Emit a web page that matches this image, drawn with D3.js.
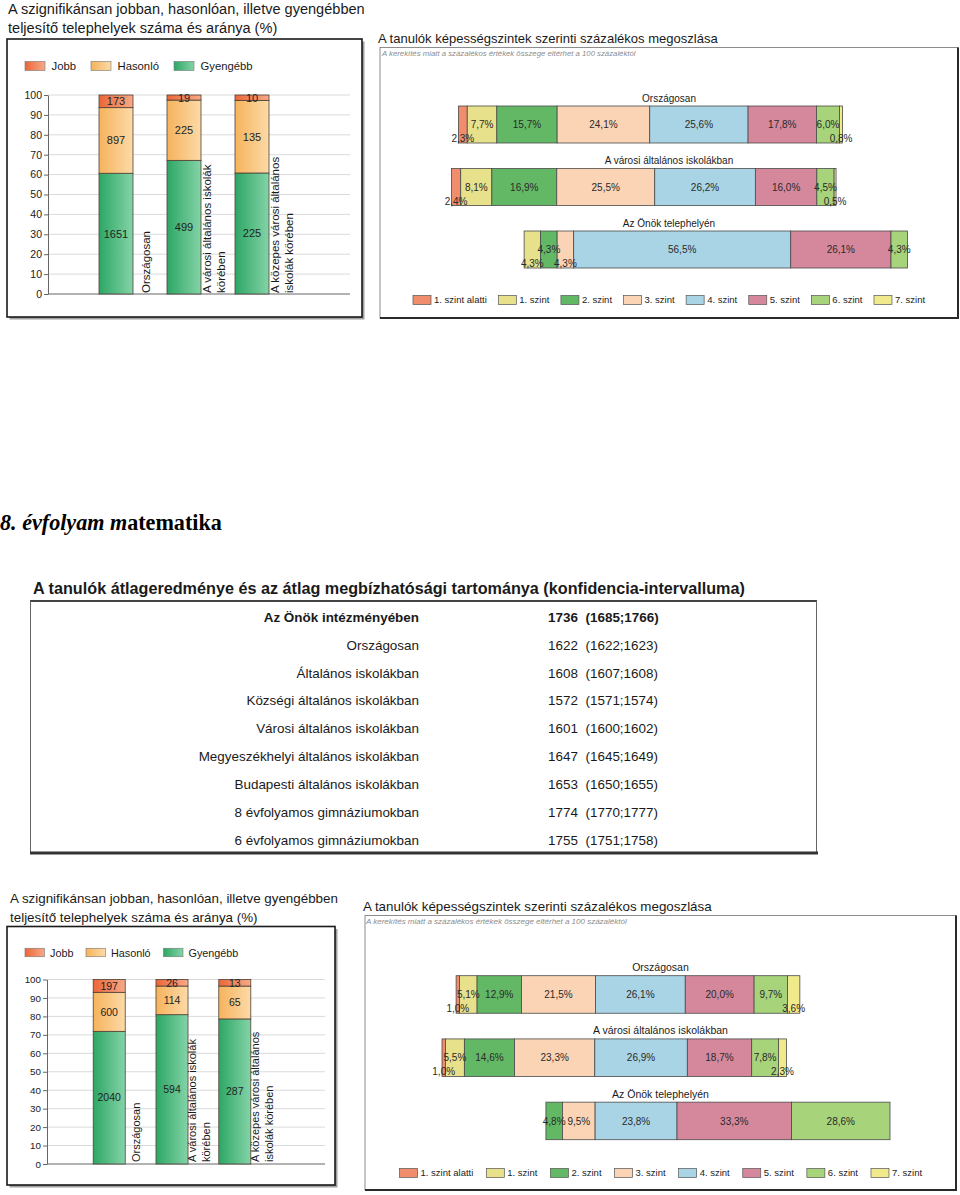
<!DOCTYPE html>
<html><head><meta charset="utf-8">
<script src="https://cdn.jsdelivr.net/npm/d3@7/dist/d3.min.js"></script>
<style>body{margin:0;background:#fff}svg{display:block}</style>
</head><body><svg id="c" width="960" height="1195"></svg>
<script>
// ---------- DATA ----------
const compCategories = [["Országosan"], ["A városi általános iskolák", "körében"], ["A közepes városi általános", "iskolák körében"]];
const compKeys = ["Jobb", "Hasonló", "Gyengébb"];
const yTicks = [0, 10, 20, 30, 40, 50, 60, 70, 80, 90, 100];
// upper block
const jobbA = [173, 19, 10];
const hasonloA = [897, 225, 135];
const gyengebbA = [1651, 499, 225];
// 8. évfolyam matematika
const jobbB = [197, 26, 13];
const hasonloB = [600, 114, 65];
const gyengebbB = [2040, 594, 287];

const levelNames = ["1. szint alatti", "1. szint", "2. szint", "3. szint", "4. szint", "5. szint", "6. szint", "7. szint"];
const distRows = ["Országosan", "A városi általános iskolákban", "Az Önök telephelyén"];
const distA_orszagosan = [2.3, 7.7, 15.7, 24.1, 25.6, 17.8, 6.0, 0.8];
const distA_varosi = [2.4, 8.1, 16.9, 25.5, 26.2, 16.0, 4.5, 0.5];
const distA_onok = [0, 4.3, 4.3, 4.3, 56.5, 26.1, 4.3, 0];
const distA_start = [1.8, 0, 18.9];
const distB_orszagosan = [1.0, 5.1, 12.9, 21.5, 26.1, 20.0, 9.7, 3.6];
const distB_varosi = [1.0, 5.5, 14.6, 23.3, 26.9, 18.7, 7.8, 2.3];
const distB_onok = [0, 0, 4.8, 9.5, 23.8, 33.3, 28.6, 0];
const distB_start = [4.1, 0, 30.2];

const tableLabels = ["Az Önök intézményében", "Országosan", "Általános iskolákban", "Községi általános iskolákban", "Városi általános iskolákban", "Megyeszékhelyi általános iskolákban", "Budapesti általános iskolákban", "8 évfolyamos gimnáziumokban", "6 évfolyamos gimnáziumokban"];
const tableMeans = [1736, 1622, 1608, 1572, 1601, 1647, 1653, 1774, 1755];
const tableLow = [1685, 1622, 1607, 1571, 1600, 1645, 1650, 1770, 1751];
const tableHigh = [1766, 1623, 1608, 1574, 1602, 1649, 1655, 1777, 1758];

// ---------- STYLE ----------
const SANS = "'Liberation Sans', Arial, sans-serif";
const SERIF = "'Liberation Serif', 'Times New Roman', serif";
const compGrad = {"Jobb": ["#EC6638", "#F7A988"], "Hasonló": ["#F6B35C", "#FCDAA8"], "Gyengébb": ["#2DA765", "#84D3A7"]};
const levelColors = ["#EF8D6C", "#E7E18C", "#63B865", "#FAD4B5", "#A9D4E5", "#D5889C", "#A7D37B", "#F0EA8C"];

const svg = d3.select("#c");
const defs = svg.append("defs");
compKeys.forEach((k, i) => {
  const g = defs.append("linearGradient").attr("id", "grad" + i).attr("x1", 0).attr("x2", 1).attr("y1", 0).attr("y2", 0);
  g.append("stop").attr("offset", 0).attr("stop-color", compGrad[k][0]);
  g.append("stop").attr("offset", 1).attr("stop-color", compGrad[k][1]);
});

function fitText(t, w) {
  const cur = t.node().getComputedTextLength();
  const fs = parseFloat(t.attr("font-size"));
  t.attr("font-size", (fs * w / cur).toFixed(2));
  return fs * w / cur;
}

// ---------- COMPARISON (stacked 100%) ----------
function drawComparison(cfg) {
  const [bx, by, bw, bh] = cfg.box;
  svg.append("rect").attr("x", bx + 2.5).attr("y", by + 2.5).attr("width", bw).attr("height", bh).attr("fill", "#a0a0a0");
  svg.append("rect").attr("x", bx).attr("y", by).attr("width", bw).attr("height", bh).attr("fill", "#fff").attr("stroke", "#1a1a1a").attr("stroke-width", 1.6);

  const t1 = svg.append("text").attr("x", cfg.title.x).attr("y", cfg.title.y[0]).attr("font-family", SANS).attr("font-size", 14).attr("fill", "#1a1a1a").text("A szignifikánsan jobban, hasonlóan, illetve gyengébben");
  const fs = fitText(t1, cfg.title.w);
  svg.append("text").attr("x", cfg.title.x).attr("y", cfg.title.y[1]).attr("font-family", SANS).attr("font-size", fs.toFixed(2)).attr("fill", "#1a1a1a").text("teljesítő telephelyek száma és aránya (%)");

  // legend
  compKeys.forEach((k, i) => {
    const lx = cfg.legend.x[i];
    svg.append("rect").attr("x", lx).attr("y", cfg.legend.y - cfg.legend.h / 2).attr("width", cfg.legend.w).attr("height", cfg.legend.h)
      .attr("fill", `url(#grad${i})`).attr("stroke", "#777").attr("stroke-width", 0.6);
    svg.append("text").attr("x", lx + cfg.legend.tx).attr("y", cfg.legend.y + 4).attr("font-family", SANS).attr("font-size", cfg.legend.fs).attr("fill", "#1a1a1a").text(k);
  });

  const y = d3.scaleLinear().domain([0, 100]).range([cfg.y0, cfg.y1]);
  const x = d3.scaleBand().domain(d3.range(compCategories.length)).range(cfg.band).paddingInner(cfg.pi).paddingOuter(0.25);

  const g = svg.append("g");
  g.selectAll("line.grid").data(yTicks.filter(d => d > 0)).join("line").attr("class", "grid")
    .attr("x1", cfg.axisX).attr("x2", cfg.gridX2).attr("y1", d => y(d)).attr("y2", d => y(d)).attr("stroke", "#dadada");
  const ax = g.append("g").attr("transform", `translate(${cfg.axisX},0)`).call(d3.axisLeft(y).tickValues(yTicks).tickSize(4).tickPadding(2).tickSizeOuter(0));
  ax.select(".domain").attr("stroke", "#666");
  ax.selectAll(".tick line").attr("stroke", "#666");
  ax.selectAll(".tick text").attr("font-family", SANS).attr("font-size", cfg.tickFs).attr("fill", "#1a1a1a");
  g.append("line").attr("x1", cfg.axisX).attr("x2", cfg.gridX2).attr("y1", y(0)).attr("y2", y(0)).attr("stroke", "#666");

  const rows = d3.range(compCategories.length).map(i => ({ i, "Jobb": cfg.counts[0][i], "Hasonló": cfg.counts[1][i], "Gyengébb": cfg.counts[2][i] }));
  const series = d3.stack().keys(["Gyengébb", "Hasonló", "Jobb"]).offset(d3.stackOffsetExpand)(rows);
  series.forEach(s => {
    const gi = compKeys.indexOf(s.key);
    g.selectAll(null).data(s).join("rect")
      .attr("x", d => x(d.data.i)).attr("width", x.bandwidth())
      .attr("y", d => y(d[1] * 100)).attr("height", d => y(d[0] * 100) - y(d[1] * 100))
      .attr("fill", `url(#grad${gi})`).attr("stroke", "#4e4035").attr("stroke-width", 0.8);
  });
  series.forEach(s => {
    g.selectAll(null).data(s).join("text")
      .attr("x", d => x(d.data.i) + x.bandwidth() / 2).attr("y", d => y((d[0] + d[1]) * 50) + cfg.valFs * 0.36)
      .attr("text-anchor", "middle").attr("font-family", SANS).attr("font-size", cfg.valFs).attr("fill", "#1f1f1f")
      .text(d => d.data[s.key]);
  });
  // rotated category labels
  compCategories.forEach((lines, i) => {
    const gc = x(i) + x.bandwidth() + (x.step() - x.bandwidth()) / 2 - 4;
    lines.forEach((ln, j) => {
      const cx = gc + (j - (lines.length - 1) / 2) * cfg.lineGap;
      g.append("text").attr("transform", `translate(${cx},${cfg.catY}) rotate(-90)`)
        .attr("dy", "0.35em").attr("font-family", SANS).attr("font-size", cfg.catFs).attr("fill", "#1a1a1a").text(ln);
    });
  });
}

// ---------- DISTRIBUTION ----------
function drawDistribution(cfg) {
  const [bx, by, bw, bh] = cfg.box;
  svg.append("rect").attr("x", bx).attr("y", by).attr("width", bw).attr("height", bh).attr("fill", "#fff").attr("stroke", "#8c8c8c").attr("stroke-width", 1);
  svg.append("path").attr("d", `M${bx + bw},${by}V${by + bh}H${bx}`).attr("fill", "none").attr("stroke", "#2a2a2a").attr("stroke-width", 2);

  const t = svg.append("text").attr("x", cfg.title.x).attr("y", cfg.title.y).attr("font-family", SANS).attr("font-size", 13).attr("fill", "#1a1a1a")
    .text("A tanulók képességszintek szerinti százalékos megoszlása");
  fitText(t, cfg.title.w);
  const s = svg.append("text").attr("x", cfg.sub.x).attr("y", cfg.sub.y).attr("font-family", SANS).attr("font-style", "italic").attr("font-size", 7).attr("fill", "#8c8c8c")
    .text("A kerekítés miatt a százalékos értékek összege eltérhet a 100 százaléktól");
  fitText(s, cfg.sub.w);

  const totals = cfg.rows.map((r, i) => cfg.starts[i] + d3.sum(r));
  const x = d3.scaleLinear().domain([0, d3.max(totals)]).range(cfg.xRange);
  const y = d3.scaleBand().domain(distRows).range(cfg.yRange).paddingInner(cfg.pi).paddingOuter(0);
  const cx = bx + bw / 2;
  const fmt = v => d3.format(".1f")(v).replace(".", ",") + "%";

  distRows.forEach((name, r) => {
    let cum = cfg.starts[r];
    const segs = cfg.rows[r].map((v, i) => { const o = { v, i, a: cum, b: cum + v }; cum += v; return o; }).filter(o => o.v > 0);
    const g = svg.append("g");
    g.append("text").attr("x", cx).attr("y", y(name) - 4.5).attr("text-anchor", "middle").attr("font-family", SANS).attr("font-size", cfg.rowFs).attr("fill", "#1a1a1a").text(name);
    g.selectAll("rect").data(segs).join("rect")
      .attr("x", o => x(o.a)).attr("width", o => x(o.b) - x(o.a)).attr("y", y(name)).attr("height", y.bandwidth())
      .attr("fill", o => levelColors[o.i]).attr("stroke", "#4a4a4a").attr("stroke-width", 0.8);
    const mid = y(name) + y.bandwidth() / 2;
    g.selectAll("text.v").data(segs).join("text").attr("class", "v")
      .attr("x", o => (x(o.a) + x(o.b)) / 2)
      .attr("y", o => mid + 3.6 + ((o.v < 3 || (o.v < 5 && o.i % 2 === 1)) ? 14 : 0))
      .attr("text-anchor", "middle").attr("font-family", SANS).attr("font-size", cfg.valFs).attr("fill", "#2a2a2a")
      .text(o => fmt(o.v));
  });

  let lx = cfg.legend.x;
  levelNames.forEach((n, i) => {
    svg.append("rect").attr("x", lx).attr("y", cfg.legend.y - 4.5).attr("width", 18).attr("height", 9)
      .attr("fill", levelColors[i]).attr("stroke", "#555").attr("stroke-width", 0.7);
    const tt = svg.append("text").attr("x", lx + 21).attr("y", cfg.legend.y + 3.4).attr("font-family", SANS).attr("font-size", 9.5).attr("fill", "#222").text(n);
    lx += 21 + tt.node().getComputedTextLength() + cfg.legend.gap;
  });
}

// ---------- DRAW ----------
drawComparison({
  box: [7, 39, 355, 278], title: { x: 8, y: [14, 33], w: 357 },
  legend: { x: [25, 91, 174], y: 66, w: 20, h: 9, tx: 26.5, fs: 11.3 },
  y0: 294, y1: 95, axisX: 48, gridX2: 350, band: [82, 286], pi: 0.5,
  counts: [jobbA, hasonloA, gyengebbA], tickFs: 10.5, valFs: 11, catFs: 11.5, catY: 293, lineGap: 14
});
drawDistribution({
  box: [380, 47.5, 578, 270.5], title: { x: 378, y: 43, w: 340 }, sub: { x: 382, y: 56, w: 254 },
  rows: [distA_orszagosan, distA_varosi, distA_onok], starts: distA_start,
  xRange: [451.5, 907.5], yRange: [106, 268], pi: 0.408, rowFs: 10, valFs: 10,
  legend: { x: 413, y: 300, gap: 11.5 }
});

// heading
const hd = svg.append("text").attr("x", 0).attr("y", 530).attr("font-family", SERIF).attr("font-weight", "bold").attr("font-size", 21).attr("fill", "#000");
hd.append("tspan").attr("font-style", "italic").text("8. évfolyam m");
hd.append("tspan").text("atematika");
fitText(hd, 222);

// table
const tt = svg.append("text").attr("x", 33).attr("y", 594).attr("font-family", SANS).attr("font-weight", "bold").attr("font-size", 16).attr("fill", "#1a1a1a")
  .text("A tanulók átlageredménye és az átlag megbízhatósági tartománya (konfidencia-intervalluma)");
fitText(tt, 712);
svg.append("line").attr("x1", 30).attr("x2", 817).attr("y1", 601).attr("y2", 601).attr("stroke", "#444").attr("stroke-width", 2);
svg.append("line").attr("x1", 30.5).attr("x2", 30.5).attr("y1", 601).attr("y2", 853).attr("stroke", "#666").attr("stroke-width", 1);
svg.append("line").attr("x1", 816.5).attr("x2", 816.5).attr("y1", 601).attr("y2", 853).attr("stroke", "#666").attr("stroke-width", 1);
svg.append("line").attr("x1", 30).attr("x2", 818).attr("y1", 853).attr("y2", 853).attr("stroke", "#333").attr("stroke-width", 3);
const ry = d3.scalePoint().domain(tableLabels).range([617, 840]);
const probe = svg.append("text").attr("font-family", SANS).attr("font-size", 13).text("Megyeszékhelyi általános iskolákban");
const rowFs = 13 * 220.5 / probe.node().getComputedTextLength();
probe.remove();
tableLabels.forEach((lab, i) => {
  const w = i === 0 ? "bold" : "normal";
  const yy = ry(lab) + rowFs * 0.36;
  svg.append("text").attr("x", 419).attr("y", yy).attr("text-anchor", "end").attr("font-family", SANS).attr("font-weight", w).attr("font-size", rowFs.toFixed(2)).attr("fill", "#1a1a1a").text(lab);
  svg.append("text").attr("x", 578).attr("y", yy).attr("text-anchor", "end").attr("font-family", SANS).attr("font-weight", w).attr("font-size", rowFs.toFixed(2)).attr("fill", "#1a1a1a").text(tableMeans[i]);
  svg.append("text").attr("x", 585.5).attr("y", yy).attr("font-family", SANS).attr("font-weight", w).attr("font-size", rowFs.toFixed(2)).attr("fill", "#1a1a1a").text(`(${tableLow[i]};${tableHigh[i]})`);
});

drawComparison({
  box: [7, 926.5, 328, 258.5], title: { x: 10, y: [903, 922], w: 328 },
  legend: { x: [25, 86, 163.5], y: 952.5, w: 19.5, h: 8.5, tx: 25, fs: 10.8 },
  y0: 1164, y1: 979.5, axisX: 47, gridX2: 325, band: [77.5, 266.5], pi: 0.49,
  counts: [jobbB, hasonloB, gyengebbB], tickFs: 9.8, valFs: 10.5, catFs: 11, catY: 1162, lineGap: 13.7
});
drawDistribution({
  box: [365, 915.5, 591, 274.5], title: { x: 363, y: 911, w: 349 }, sub: { x: 366, y: 924, w: 261 },
  rows: [distB_orszagosan, distB_varosi, distB_onok], starts: distB_start,
  xRange: [442, 890], yRange: [975.7, 1139.7], pi: 0.406, rowFs: 10.5, valFs: 10,
  legend: { x: 399.5, y: 1173, gap: 13 }
});
</script></body></html>
